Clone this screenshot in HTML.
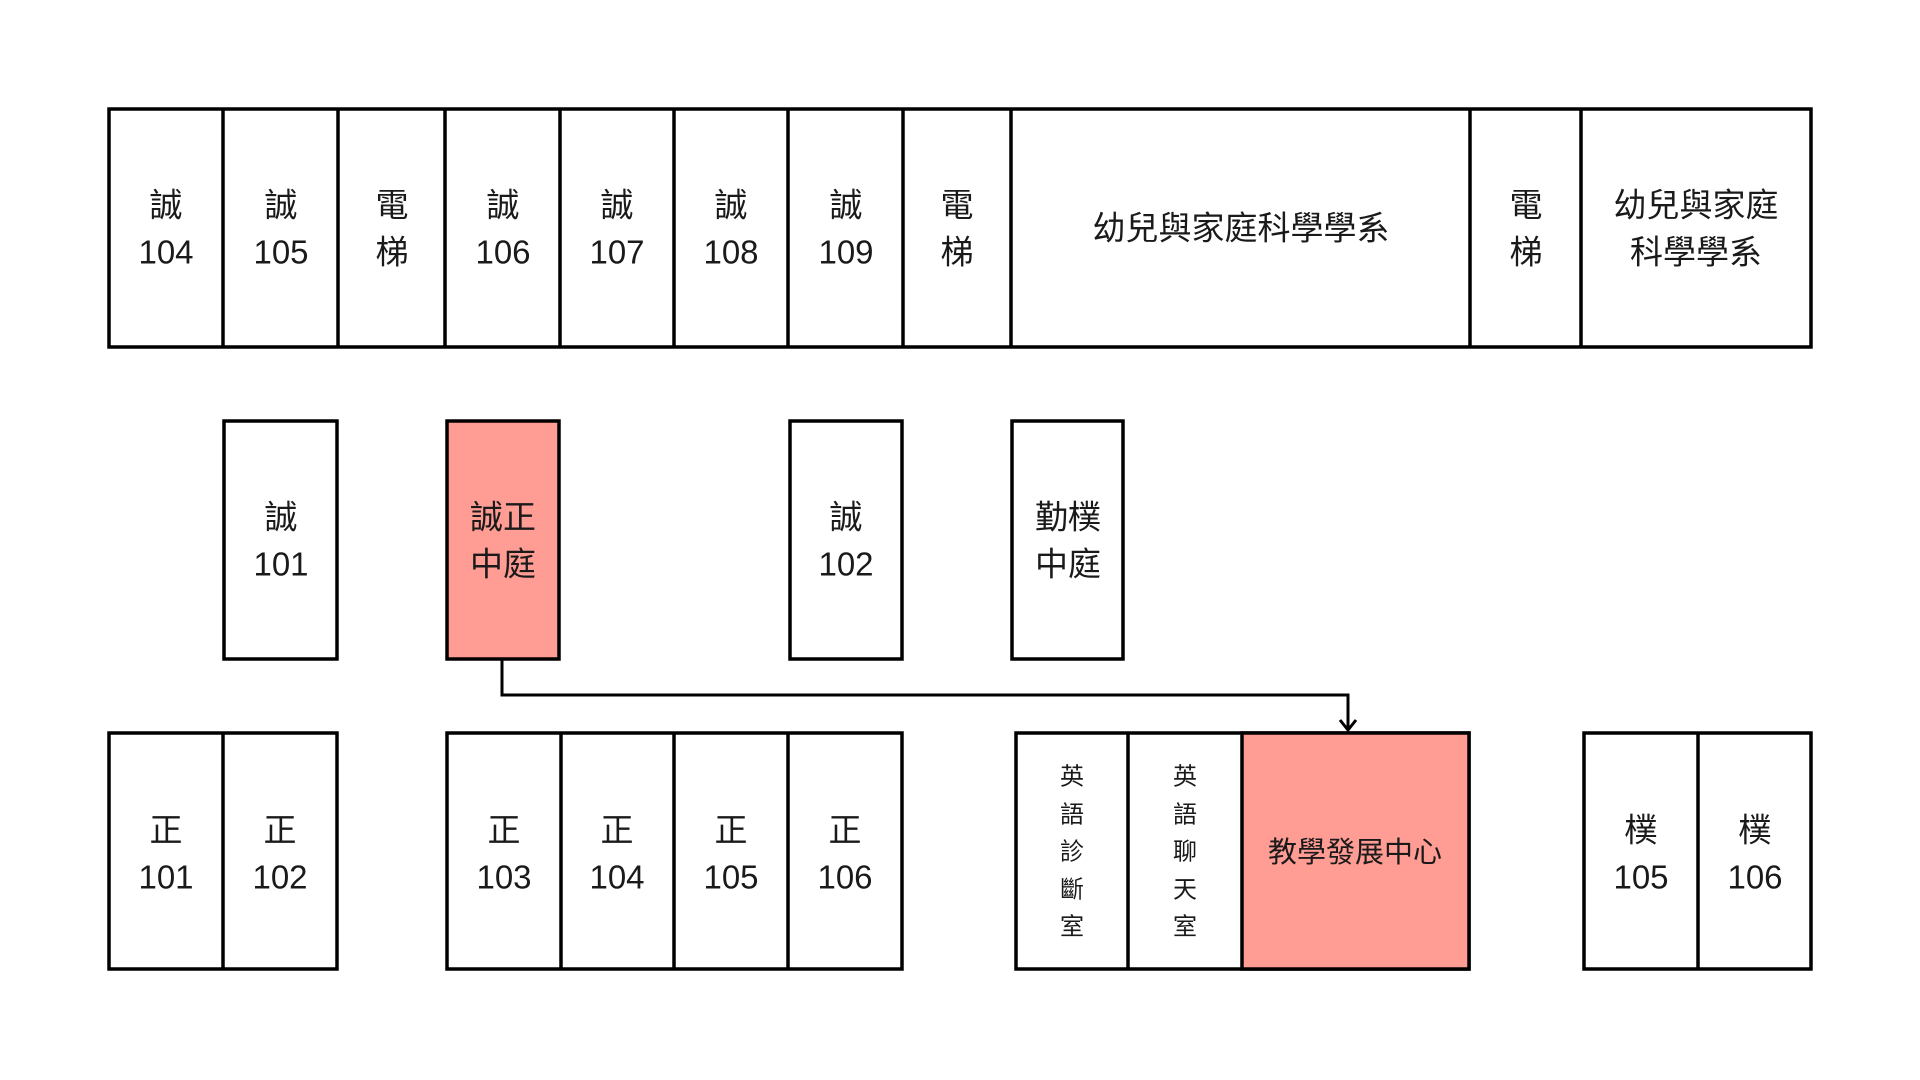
<!DOCTYPE html>
<html><head><meta charset="utf-8"><style>
html,body{margin:0;padding:0;background:#fff;width:1920px;height:1080px;overflow:hidden}
svg text{font-family:"Liberation Sans","Noto Sans CJK TC",sans-serif;fill:#1a1a1a;text-anchor:middle;dominant-baseline:central}
</style></head><body>
<svg width="1920" height="1080" viewBox="0 0 1920 1080" xmlns="http://www.w3.org/2000/svg">
<g fill="#fff" stroke="#000" stroke-width="3.5">
<rect x="109" y="109" width="1702" height="238"/>
<rect x="224" y="421" width="113" height="238"/>
<rect x="447" y="421" width="112" height="238" fill="#FF9C94"/>
<rect x="790" y="421" width="112" height="238"/>
<rect x="1012" y="421" width="111" height="238"/>
<rect x="109" y="733" width="228" height="236"/>
<rect x="447" y="733" width="455" height="236"/>
<rect x="1016" y="733" width="453" height="236"/>
<rect x="1242" y="733" width="227" height="236" fill="#FF9C94"/>
<rect x="1584" y="733" width="227" height="236"/>
</g>
<g stroke="#000" stroke-width="3.5">
<line x1="223" y1="109" x2="223" y2="347"/><line x1="338" y1="109" x2="338" y2="347"/>
<line x1="445" y1="109" x2="445" y2="347"/><line x1="560" y1="109" x2="560" y2="347"/>
<line x1="674" y1="109" x2="674" y2="347"/><line x1="788" y1="109" x2="788" y2="347"/>
<line x1="903" y1="109" x2="903" y2="347"/><line x1="1011" y1="109" x2="1011" y2="347"/>
<line x1="1470" y1="109" x2="1470" y2="347"/><line x1="1581" y1="109" x2="1581" y2="347"/>
<line x1="223" y1="733" x2="223" y2="969"/>
<line x1="561" y1="733" x2="561" y2="969"/><line x1="674" y1="733" x2="674" y2="969"/><line x1="788" y1="733" x2="788" y2="969"/>
<line x1="1128" y1="733" x2="1128" y2="969"/>
<line x1="1698" y1="733" x2="1698" y2="969"/>
</g>
<polyline points="502,659 502,695 1348,695 1348,730" fill="none" stroke="#000" stroke-width="3"/>
<polyline points="1340,720 1348,730 1356,720" fill="none" stroke="#000" stroke-width="3"/>
<g font-size="33">
<text x="166" y="205">誠</text><text x="166" y="252">104</text>
<text x="281" y="205">誠</text><text x="281" y="252">105</text>
<text x="392" y="205">電</text><text x="392" y="252">梯</text>
<text x="503" y="205">誠</text><text x="503" y="252">106</text>
<text x="617" y="205">誠</text><text x="617" y="252">107</text>
<text x="731" y="205">誠</text><text x="731" y="252">108</text>
<text x="846" y="205">誠</text><text x="846" y="252">109</text>
<text x="957" y="205">電</text><text x="957" y="252">梯</text>
<text x="1241" y="228">幼兒與家庭科學學系</text>
<text x="1526" y="205">電</text><text x="1526" y="252">梯</text>
<text x="1696" y="205">幼兒與家庭</text><text x="1696" y="252">科學學系</text>
<text x="281" y="517">誠</text><text x="281" y="564">101</text>
<text x="503" y="517">誠正</text><text x="503" y="564">中庭</text>
<text x="846" y="517">誠</text><text x="846" y="564">102</text>
<text x="1068" y="517">勤樸</text><text x="1068" y="564">中庭</text>
<text x="166" y="830">正</text><text x="166" y="877">101</text>
<text x="280" y="830">正</text><text x="280" y="877">102</text>
<text x="504" y="830">正</text><text x="504" y="877">103</text>
<text x="617" y="830">正</text><text x="617" y="877">104</text>
<text x="731" y="830">正</text><text x="731" y="877">105</text>
<text x="845" y="830">正</text><text x="845" y="877">106</text>
<text x="1355" y="853" font-size="29">教學發展中心</text>
<text x="1641" y="830">樸</text><text x="1641" y="877">105</text>
<text x="1755" y="830">樸</text><text x="1755" y="877">106</text>
</g>
<g font-size="24">
<text x="1072" y="777">英</text><text x="1072" y="815">語</text><text x="1072" y="852">診</text><text x="1072" y="890">斷</text><text x="1072" y="927">室</text>
<text x="1185" y="777">英</text><text x="1185" y="815">語</text><text x="1185" y="852">聊</text><text x="1185" y="890">天</text><text x="1185" y="927">室</text>
</g>
</svg>
</body></html>
